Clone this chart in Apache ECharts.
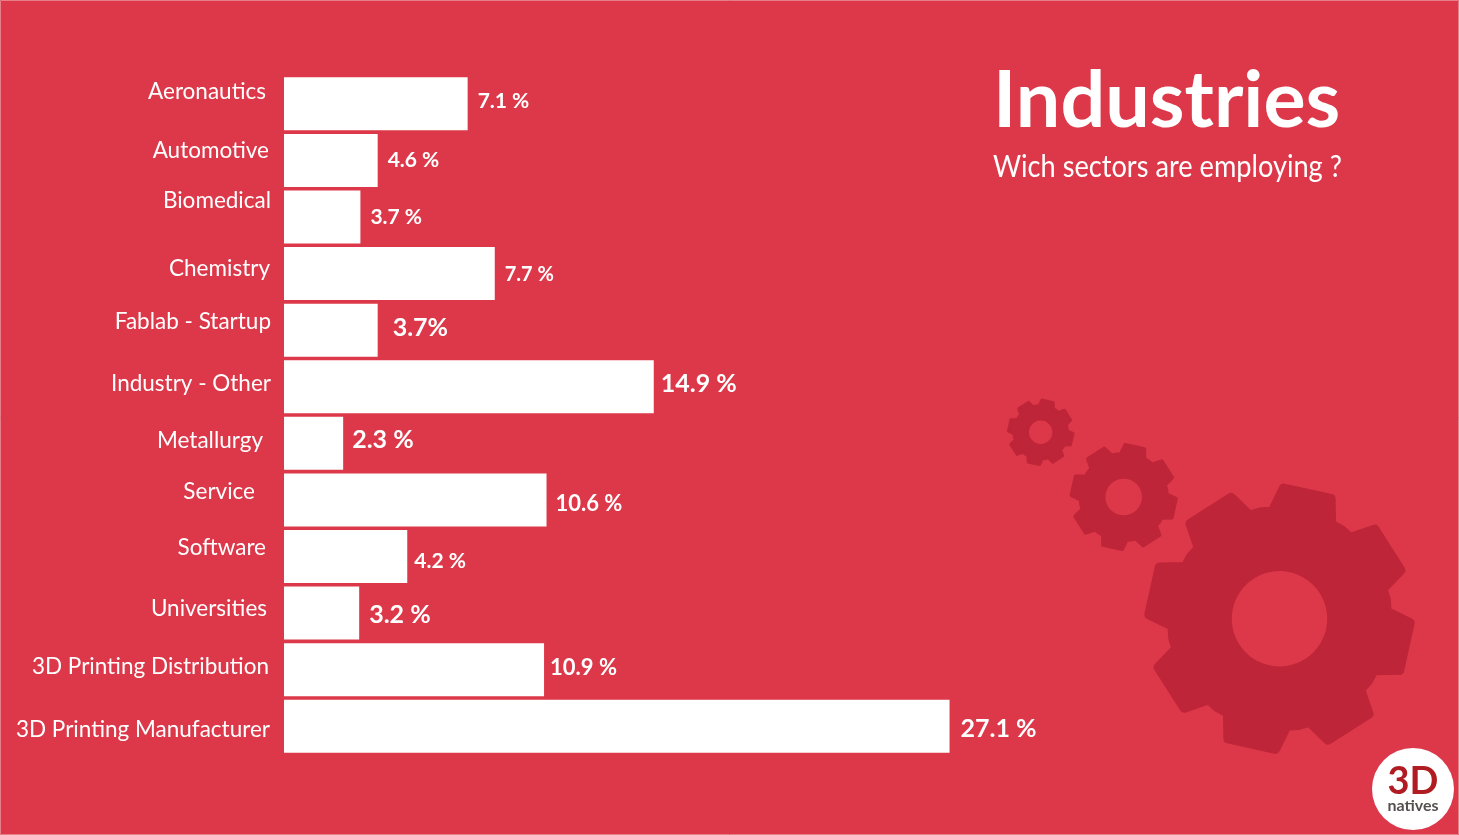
<!DOCTYPE html>
<html>
<head>
<meta charset="utf-8">
<style>html,body{margin:0;padding:0;background:#dc3849}#chart{width:1459px;height:835px}</style>
<script src="https://cdn.jsdelivr.net/npm/echarts@6/dist/echarts.min.js"></script>
</head>
<body>
<div id="chart"></div>
<script>
const categories = ['Aeronautics', 'Automotive', 'Biomedical', 'Chemistry', 'Fablab - Startup', 'Industry - Other', 'Metallurgy', 'Service', 'Software', 'Universities', '3D Printing Distribution', '3D Printing Manufacturer'];
// bar lengths as drawn in the picture (not quite to scale with the printed numbers)
const barValues = [7.45, 3.8, 3.1, 8.55, 3.8, 15.0, 2.4, 10.65, 5.0, 3.05, 10.55, 27.0];
const printedLabels = ['7.1 %', '4.6 %', '3.7 %', '7.7 %', '3.7%', '14.9 %', '2.3 %', '10.6 %', '4.2 %', '3.2 %', '10.9 %', '27.1 %'];

// hand placed text in the original, so each label gets its own nudge
const valueLabelFont = [21, 21, 21, 20, 25, 25, 25, 22, 21, 25, 22, 25];
const valueLabelGap = [10, 10, 10, 10, 15, 7, 9, 9, 7, 10, 6, 11];
const valueLabelDy = [-3, 0, 0, 1, -2, -3, -3, 4, 5, 2, -2, 3];
const catLabelDy = [-12, -10, -16, -5, -8, -3, -3, -8, -9, -4, -3, 4];
const catLabelRight = [266, 269, 271, 270, 271, 271, 263, 255, 266, 267, 269, 270];

const FONT = 'Lato';
const BG = '#dc3849';
const GEAR = '#be2538';
const AXIS_X = 284;

function gearPoints(cx, cy, s) {
  const pts = [];
  const rot = 12.5 * Math.PI / 180;
  const add = (a, x, y) => {
    // x,y local to a tooth pointing up
    const c = Math.cos(a), n = Math.sin(a);
    pts.push([cx + (x * c + y * n) * s, cy + (x * n - y * c) * s]);
  };
  for (let i = 0; i < 8; i++) {
    const a = rot + i * Math.PI / 4;
    add(a, -30, 103);
    add(a, -24, 128);
    add(a, 24, 128);
    add(a, 30, 103);
    // valley up to the next tooth
    const r = 108;
    add(a, r * Math.sin(Math.PI / 8), r * Math.cos(Math.PI / 8));
  }
  return pts;
}

function gear(cx, cy, s, holeR) {
  return [
    { type: 'polygon', shape: { points: gearPoints(cx, cy, s) }, style: { fill: GEAR, stroke: GEAR, lineWidth: 10 * s, lineJoin: 'round' } },
    { type: 'circle', shape: { cx: cx, cy: cy, r: holeR }, style: { fill: BG } }
  ];
}

const chart = echarts.init(document.getElementById('chart'));

const option = {
  backgroundColor: BG,
  animation: false,
  grid: { left: AXIS_X, top: 75.5, width: 986, height: 679 },
  xAxis: { type: 'value', min: 0, max: 40, show: false },
  yAxis: {
    type: 'category',
    inverse: true,
    data: categories,
    axisLine: { show: false },
    axisTick: { show: false },
    axisLabel: { show: false }
  },
  series: [{
    type: 'bar',
    barWidth: 53,
    itemStyle: { color: '#fff' },
    data: barValues.map((v, i) => ({
      value: v,
      label: {
        show: true,
        position: 'right',
        distance: valueLabelGap[i],
        offset: [0, valueLabelDy[i]],
        formatter: printedLabels[i],
        color: '#fff',
        fontFamily: FONT,
        fontWeight: 'bold',
        fontSize: valueLabelFont[i]
      }
    }))
  }, {
    // category names sit at uneven heights, axisLabel can't shift them one by one
    type: 'scatter',
    symbolSize: 0,
    silent: true,
    itemStyle: { opacity: 1 },
    data: categories.map((c, i) => ({
      value: [0, c],
      label: {
        show: true,
        position: 'left',
        distance: AXIS_X - catLabelRight[i],
        offset: [0, catLabelDy[i]],
        formatter: c,
        color: '#fff',
        opacity: 1,
        fontFamily: FONT,
        fontSize: 22.5
      }
    }))
  }],
  graphic: [
    { type: 'rect', shape: { x: 0.5, y: 0.5, width: 1458, height: 834 }, style: { fill: 'none', stroke: '#e77f89', lineWidth: 1 } },
    { type: 'text', x: 993, y: 62, style: { text: 'Industries', fill: '#fff', font: 'bold 79px ' + FONT } },
    { type: 'text', x: 993, y: 152, scaleX: 0.906, style: { text: 'Wich sectors are employing ?', fill: '#fff', font: '30px ' + FONT } },
    ...gear(1279.5, 618.7, 1, 47.7),
    ...gear(1123.7, 497, 0.4, 18.3),
    ...gear(1040.7, 432.3, 0.25, 11.7),
    { type: 'circle', shape: { cx: 1413, cy: 789, r: 41 }, style: { fill: '#fff' } },
    { type: 'text', x: 1413, y: 782, style: { text: '3D', fill: '#b01c22', font: 'bold 38px ' + FONT, align: 'center', verticalAlign: 'middle' } },
    { type: 'text', x: 1413, y: 806, style: { text: 'natives', fill: '#55504f', font: 'bold 16px ' + FONT, align: 'center', verticalAlign: 'middle' } }
  ]
};

chart.setOption(option);
</script>
</body>
</html>
